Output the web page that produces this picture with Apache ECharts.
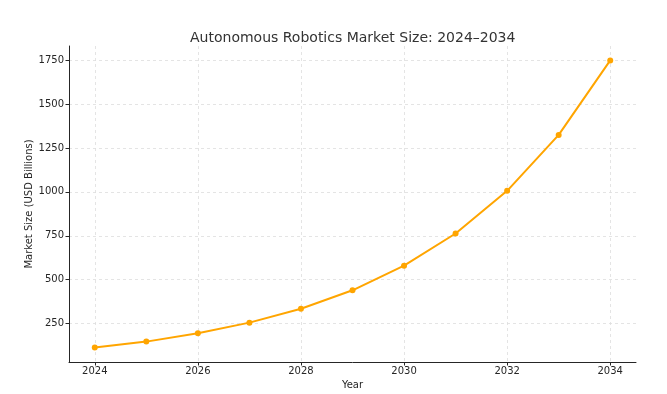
<!DOCTYPE html>
<html>
<head>
<meta charset="utf-8">
<script src="https://cdn.jsdelivr.net/npm/echarts@6/dist/echarts.min.js"></script>
<style>html,body{margin:0;padding:0;background:#fff}#c{width:667px;height:394px}</style>
</head>
<body>
<div id="c"></div>
<script>
const years = [2024, 2025, 2026, 2027, 2028, 2029, 2030, 2031, 2032, 2033, 2034];
const marketSize = [114, 148, 195, 256, 335, 440, 580, 763, 1006, 1324, 1748];
const xTicks = [2024, 2026, 2028, 2030, 2032, 2034];
const yTicks = [250, 500, 750, 1000, 1250, 1500, 1750];

const font = 'DejaVu Sans';
const chart = echarts.init(document.getElementById('c'), null, {renderer: 'canvas'});
chart.setOption({
  animation: false,
  backgroundColor: '#ffffff',
  title: {
    text: 'Autonomous Robotics Market Size: 2024\u20132034',
    left: 185, top: 26,
    textStyle: {fontFamily: font, fontSize: 14, fontWeight: 'normal', color: '#333333'}
  },
  grid: {left: 69, right: 31, top: 46, bottom: 32, containLabel: false, outerBoundsMode: 'none'},
  xAxis: {
    type: 'value', min: 2023.5, max: 2034.5,
    name: 'Year', nameLocation: 'middle', nameGap: 18, nameMoveOverlap: false,
    nameTextStyle: {fontFamily: font, fontSize: 10, color: '#262626'},
    axisLine: {show: true, onZero: false, lineStyle: {color: '#262626', width: 1}},
    axisTick: {show: true, length: 3.5, lineStyle: {color: '#262626'}, customValues: xTicks},
    axisLabel: {customValues: xTicks, fontFamily: font, fontSize: 10, color: '#262626', margin: 4, formatter: v => String(v)},
    splitLine: {show: true, lineStyle: {color: '#dddddd', type: [3, 3], width: 0.8}}
  },
  yAxis: {
    type: 'value', min: 32, max: 1830,
    name: 'Market Size (USD Billions)', nameLocation: 'middle', nameGap: 35, nameRotate: 90, nameMoveOverlap: false,
    nameTextStyle: {fontFamily: font, fontSize: 10, color: '#262626'},
    axisLine: {show: true, onZero: false, lineStyle: {color: '#262626', width: 1}},
    axisTick: {show: true, length: 3.5, lineStyle: {color: '#262626'}, customValues: yTicks},
    axisLabel: {customValues: yTicks, fontFamily: font, fontSize: 10, color: '#262626', margin: 5, formatter: v => String(v)},
    splitLine: {show: true, lineStyle: {color: '#dddddd', type: [3, 3], width: 0.8}}
  },
  series: [{
    type: 'line',
    data: years.map((y, i) => [y, marketSize[i]]),
    symbol: 'circle', symbolSize: 6,
    lineStyle: {color: '#FFA500', width: 2},
    itemStyle: {color: '#FFA500'}
  }]
});
</script>
</body>
</html>
